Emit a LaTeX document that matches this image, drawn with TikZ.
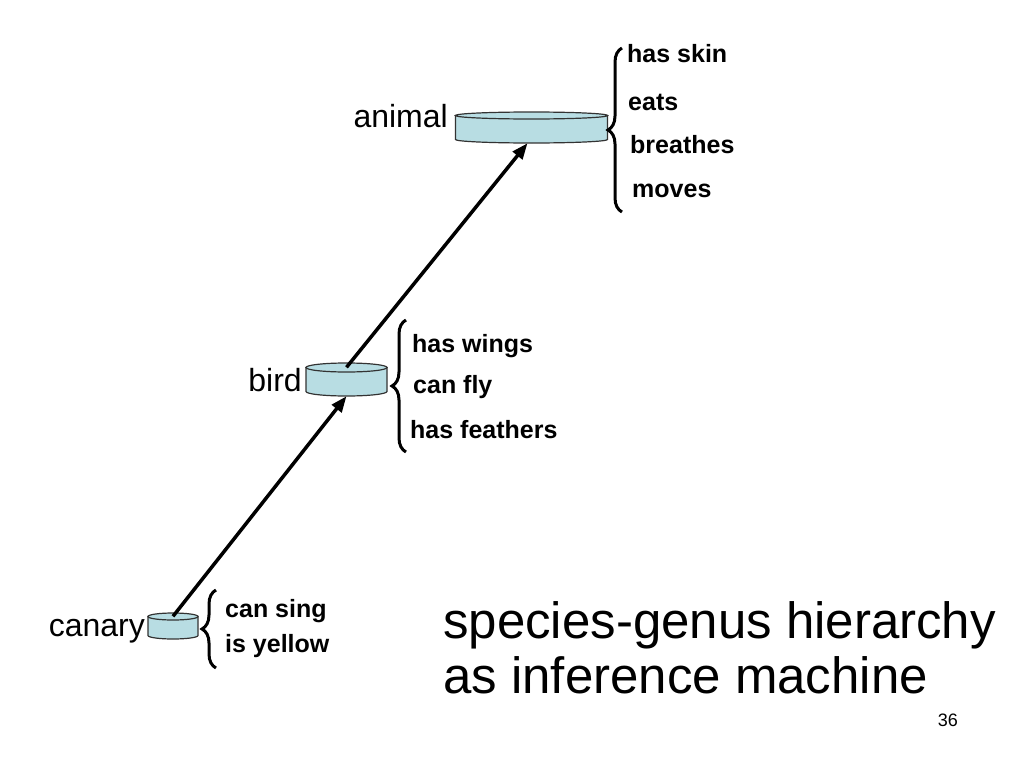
\documentclass[tikz,border=0pt]{standalone}
\usepackage{fontspec}
\setmainfont{Liberation Sans}
\usetikzlibrary{arrows.meta,decorations.pathreplacing}
\definecolor{cylblue}{RGB}{184,221,227}

\begin{document}
\begin{tikzpicture}[x=1pt, y=-1pt]
\useasboundingbox (0,0) rectangle (1024,768);
\tikzstyle{every node} = [inner sep=0pt]
\tikzstyle{cylbox} = [rectangle]
\tikzstyle{cylline} = [draw=black!80, line width=1.2pt, fill=cylblue]
\tikzstyle{lbl} = [anchor=base east, font=\fontsize{32}{38}\selectfont]
\tikzstyle{prop} = [anchor=base west, font=\fontsize{25}{30}\selectfont\bfseries]
\tikzstyle{isa} = [line width=3.5pt, -{Triangle[length=16pt,width=12pt]}]
\tikzstyle{grp} = [decorate, decoration={brace, amplitude=14pt}, line width=3pt]

% cylinders: name/x/y/width/height/cap radius
\foreach \n/\cx/\cy/\w/\h/\r in {animal/531.5/127.5/152/31/3.5, bird/346.5/379.5/81/33/4.5, canary/173/626/50/26/3.5} {
  \node[cylbox, minimum width=\w, minimum height=\h] (\n) at (\cx, \cy) {};
  \path[cylline] (\cx-\w/2, \cy-\h/2+\r) -- (\cx-\w/2, \cy+\h/2-\r)
    arc[start angle=180, end angle=0, x radius=\w/2, y radius=\r]
    -- (\cx+\w/2, \cy-\h/2+\r) -- cycle;
  \path[cylline] (\cx, \cy-\h/2+\r) ellipse [x radius=\w/2, y radius=\r];
}

\node[lbl] (animal-l) at (448, 127) {animal};
\node[lbl] (bird-l) at (302, 391) {bird};
\node[lbl] (canary-l) at (145, 636) {canary};

% animal
\node[prop] (skin) at (627, 63) {has skin};
\node[prop] (eats) at (628, 110) {eats};
\node[prop] (breathes) at (630, 153) {breathes};
\node[prop] (moves) at (632, 197) {moves};
% bird
\node[prop] (wings) at (412, 352) {has wings};
\node[prop] (fly) at (413, 393) {can fly};
\node[prop] (feathers) at (410, 438) {has feathers};
% canary
\node[prop] (sing) at (225, 617) {can sing};
\node[prop] (yellow) at (225, 652) {is yellow};

\draw [grp] (622, 212) -- (622, 48);
\draw [grp] (406, 452) -- (406, 320);
\draw [grp] (216, 668) -- (216, 590);

\draw [isa] ([yshift=-3.5pt]canary.north) -- (bird.south);
\draw [isa] ([yshift=-4.5pt]bird.north) -- ([xshift=-4pt]animal.south);

\node[anchor=base west, font=\fontsize{51}{55}\selectfont] (title1) at (443, 638) {species-genus hierarchy};
\node[anchor=base west, font=\fontsize{51}{55}\selectfont] (title2) at (443, 693) {as inference machine};
\node[anchor=base east, font=\fontsize{18}{20}\selectfont] (page) at (958, 726) {36};
\end{tikzpicture}
\end{document}
